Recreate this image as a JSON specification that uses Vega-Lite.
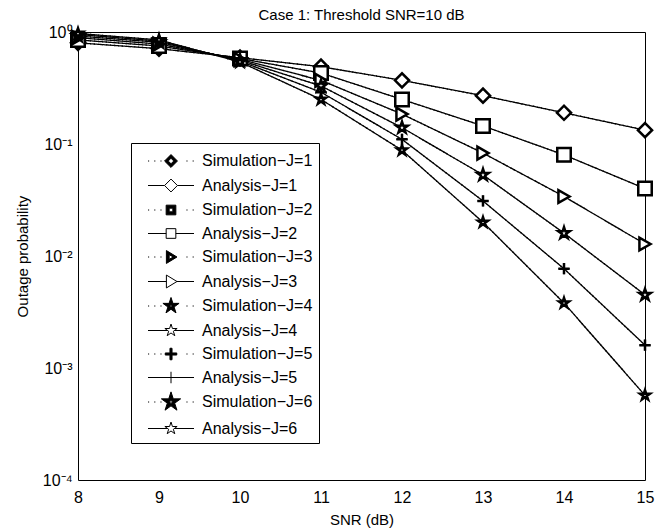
{
  "$schema": "https://vega.github.io/schema/vega-lite/v6.json",
  "width": 567,
  "height": 448,
  "autosize": {"type": "none"},
  "padding": {"left": 78, "top": 32, "right": 22, "bottom": 49},
  "background": "white",
  "title": {"text": "Case 1: Threshold SNR=10 dB", "font": "Liberation Sans", "fontSize": 15, "fontWeight": "normal", "color": "black", "offset": 0},
  "config": {"font": "Liberation Sans", "view": {"stroke": null}, "axis": {"grid": false, "domainColor": "black", "tickColor": "black", "labelColor": "black", "titleColor": "black", "labelFont": "Liberation Sans", "titleFont": "Liberation Sans", "titleFontWeight": "normal"}},
  "data": {"values": [
    {"snr":8,"J":1,"type":"Simulation","series":"Simulation−J=1","p":0.80},{"snr":9,"J":1,"type":"Simulation","series":"Simulation−J=1","p":0.71},{"snr":10,"J":1,"type":"Simulation","series":"Simulation−J=1","p":0.59},{"snr":11,"J":1,"type":"Simulation","series":"Simulation−J=1","p":0.49},{"snr":12,"J":1,"type":"Simulation","series":"Simulation−J=1","p":0.37},{"snr":13,"J":1,"type":"Simulation","series":"Simulation−J=1","p":0.27},{"snr":14,"J":1,"type":"Simulation","series":"Simulation−J=1","p":0.19},{"snr":15,"J":1,"type":"Simulation","series":"Simulation−J=1","p":0.133},
    {"snr":8,"J":1,"type":"Analysis","series":"Analysis−J=1","p":0.80},{"snr":9,"J":1,"type":"Analysis","series":"Analysis−J=1","p":0.71},{"snr":10,"J":1,"type":"Analysis","series":"Analysis−J=1","p":0.59},{"snr":11,"J":1,"type":"Analysis","series":"Analysis−J=1","p":0.49},{"snr":12,"J":1,"type":"Analysis","series":"Analysis−J=1","p":0.37},{"snr":13,"J":1,"type":"Analysis","series":"Analysis−J=1","p":0.27},{"snr":14,"J":1,"type":"Analysis","series":"Analysis−J=1","p":0.19},{"snr":15,"J":1,"type":"Analysis","series":"Analysis−J=1","p":0.133},
    {"snr":8,"J":2,"type":"Simulation","series":"Simulation−J=2","p":0.85},{"snr":9,"J":2,"type":"Simulation","series":"Simulation−J=2","p":0.75},{"snr":10,"J":2,"type":"Simulation","series":"Simulation−J=2","p":0.58},{"snr":11,"J":2,"type":"Simulation","series":"Simulation−J=2","p":0.43},{"snr":12,"J":2,"type":"Simulation","series":"Simulation−J=2","p":0.25},{"snr":13,"J":2,"type":"Simulation","series":"Simulation−J=2","p":0.145},{"snr":14,"J":2,"type":"Simulation","series":"Simulation−J=2","p":0.080},{"snr":15,"J":2,"type":"Simulation","series":"Simulation−J=2","p":0.040},
    {"snr":8,"J":2,"type":"Analysis","series":"Analysis−J=2","p":0.85},{"snr":9,"J":2,"type":"Analysis","series":"Analysis−J=2","p":0.75},{"snr":10,"J":2,"type":"Analysis","series":"Analysis−J=2","p":0.58},{"snr":11,"J":2,"type":"Analysis","series":"Analysis−J=2","p":0.43},{"snr":12,"J":2,"type":"Analysis","series":"Analysis−J=2","p":0.25},{"snr":13,"J":2,"type":"Analysis","series":"Analysis−J=2","p":0.145},{"snr":14,"J":2,"type":"Analysis","series":"Analysis−J=2","p":0.080},{"snr":15,"J":2,"type":"Analysis","series":"Analysis−J=2","p":0.040},
    {"snr":8,"J":3,"type":"Simulation","series":"Simulation−J=3","p":0.89},{"snr":9,"J":3,"type":"Simulation","series":"Simulation−J=3","p":0.78},{"snr":10,"J":3,"type":"Simulation","series":"Simulation−J=3","p":0.57},{"snr":11,"J":3,"type":"Simulation","series":"Simulation−J=3","p":0.37},{"snr":12,"J":3,"type":"Simulation","series":"Simulation−J=3","p":0.185},{"snr":13,"J":3,"type":"Simulation","series":"Simulation−J=3","p":0.083},{"snr":14,"J":3,"type":"Simulation","series":"Simulation−J=3","p":0.034},{"snr":15,"J":3,"type":"Simulation","series":"Simulation−J=3","p":0.0128},
    {"snr":8,"J":3,"type":"Analysis","series":"Analysis−J=3","p":0.89},{"snr":9,"J":3,"type":"Analysis","series":"Analysis−J=3","p":0.78},{"snr":10,"J":3,"type":"Analysis","series":"Analysis−J=3","p":0.57},{"snr":11,"J":3,"type":"Analysis","series":"Analysis−J=3","p":0.37},{"snr":12,"J":3,"type":"Analysis","series":"Analysis−J=3","p":0.185},{"snr":13,"J":3,"type":"Analysis","series":"Analysis−J=3","p":0.083},{"snr":14,"J":3,"type":"Analysis","series":"Analysis−J=3","p":0.034},{"snr":15,"J":3,"type":"Analysis","series":"Analysis−J=3","p":0.0128},
    {"snr":8,"J":4,"type":"Simulation","series":"Simulation−J=4","p":0.92},{"snr":9,"J":4,"type":"Simulation","series":"Simulation−J=4","p":0.81},{"snr":10,"J":4,"type":"Simulation","series":"Simulation−J=4","p":0.56},{"snr":11,"J":4,"type":"Simulation","series":"Simulation−J=4","p":0.33},{"snr":12,"J":4,"type":"Simulation","series":"Simulation−J=4","p":0.14},{"snr":13,"J":4,"type":"Simulation","series":"Simulation−J=4","p":0.053},{"snr":14,"J":4,"type":"Simulation","series":"Simulation−J=4","p":0.016},{"snr":15,"J":4,"type":"Simulation","series":"Simulation−J=4","p":0.0045},
    {"snr":8,"J":4,"type":"Analysis","series":"Analysis−J=4","p":0.92},{"snr":9,"J":4,"type":"Analysis","series":"Analysis−J=4","p":0.81},{"snr":10,"J":4,"type":"Analysis","series":"Analysis−J=4","p":0.56},{"snr":11,"J":4,"type":"Analysis","series":"Analysis−J=4","p":0.33},{"snr":12,"J":4,"type":"Analysis","series":"Analysis−J=4","p":0.14},{"snr":13,"J":4,"type":"Analysis","series":"Analysis−J=4","p":0.053},{"snr":14,"J":4,"type":"Analysis","series":"Analysis−J=4","p":0.016},{"snr":15,"J":4,"type":"Analysis","series":"Analysis−J=4","p":0.0045},
    {"snr":8,"J":5,"type":"Simulation","series":"Simulation−J=5","p":0.95},{"snr":9,"J":5,"type":"Simulation","series":"Simulation−J=5","p":0.83},{"snr":10,"J":5,"type":"Simulation","series":"Simulation−J=5","p":0.55},{"snr":11,"J":5,"type":"Simulation","series":"Simulation−J=5","p":0.29},{"snr":12,"J":5,"type":"Simulation","series":"Simulation−J=5","p":0.11},{"snr":13,"J":5,"type":"Simulation","series":"Simulation−J=5","p":0.031},{"snr":14,"J":5,"type":"Simulation","series":"Simulation−J=5","p":0.0077},{"snr":15,"J":5,"type":"Simulation","series":"Simulation−J=5","p":0.0016},
    {"snr":8,"J":5,"type":"Analysis","series":"Analysis−J=5","p":0.95},{"snr":9,"J":5,"type":"Analysis","series":"Analysis−J=5","p":0.83},{"snr":10,"J":5,"type":"Analysis","series":"Analysis−J=5","p":0.55},{"snr":11,"J":5,"type":"Analysis","series":"Analysis−J=5","p":0.29},{"snr":12,"J":5,"type":"Analysis","series":"Analysis−J=5","p":0.11},{"snr":13,"J":5,"type":"Analysis","series":"Analysis−J=5","p":0.031},{"snr":14,"J":5,"type":"Analysis","series":"Analysis−J=5","p":0.0077},{"snr":15,"J":5,"type":"Analysis","series":"Analysis−J=5","p":0.0016},
    {"snr":8,"J":6,"type":"Simulation","series":"Simulation−J=6","p":0.97},{"snr":9,"J":6,"type":"Simulation","series":"Simulation−J=6","p":0.85},{"snr":10,"J":6,"type":"Simulation","series":"Simulation−J=6","p":0.54},{"snr":11,"J":6,"type":"Simulation","series":"Simulation−J=6","p":0.25},{"snr":12,"J":6,"type":"Simulation","series":"Simulation−J=6","p":0.088},{"snr":13,"J":6,"type":"Simulation","series":"Simulation−J=6","p":0.020},{"snr":14,"J":6,"type":"Simulation","series":"Simulation−J=6","p":0.0038},{"snr":15,"J":6,"type":"Simulation","series":"Simulation−J=6","p":0.00057},
    {"snr":8,"J":6,"type":"Analysis","series":"Analysis−J=6","p":0.97},{"snr":9,"J":6,"type":"Analysis","series":"Analysis−J=6","p":0.85},{"snr":10,"J":6,"type":"Analysis","series":"Analysis−J=6","p":0.54},{"snr":11,"J":6,"type":"Analysis","series":"Analysis−J=6","p":0.25},{"snr":12,"J":6,"type":"Analysis","series":"Analysis−J=6","p":0.088},{"snr":13,"J":6,"type":"Analysis","series":"Analysis−J=6","p":0.020},{"snr":14,"J":6,"type":"Analysis","series":"Analysis−J=6","p":0.0038},{"snr":15,"J":6,"type":"Analysis","series":"Analysis−J=6","p":0.00057}
  ]},
  "resolve": {"axis": {"x": "independent", "y": "independent"}, "scale": {"shape": "independent", "fill": "independent", "stroke": "independent"}},
  "layer": [
    {
      "mark": {"type": "line", "color": "black", "strokeWidth": 1.3},
      "encoding": {
        "x": {"field": "snr", "type": "quantitative", "scale": {"domain": [8, 15], "nice": false, "zero": false},
          "axis": {"orient": "bottom", "values": [8,9,10,11,12,13,14,15], "title": "SNR (dB)", "titleFontSize": 15, "titlePadding": 7, "labelFontSize": 16, "labelPadding": 9, "tickSize": 0, "labelFlush": false,
            "encode": {"ticks": {"update": {"y2": {"value": -6}}}}}},
        "y": {"field": "p", "type": "quantitative", "scale": {"type": "log", "domain": [0.0001, 1], "nice": false},
          "axis": {"orient": "left", "values": [0.0001,0.0002,0.0003,0.0004,0.0005,0.0006,0.0007,0.0008,0.0009,0.001,0.002,0.003,0.004,0.005,0.006,0.007,0.008,0.009,0.01,0.02,0.03,0.04,0.05,0.06,0.07,0.08,0.09,0.1,0.2,0.3,0.4,0.5,0.6,0.7,0.8,0.9,1],
            "labelExpr": "abs(log(datum.value)/LN10 - round(log(datum.value)/LN10)) < 0.001 ? '10' + ['⁰','⁻¹','⁻²','⁻³','⁻⁴'][-round(log(datum.value)/LN10)] : ''",
            "labelOverlap": false, "labelFlush": false, "labelFontSize": 16, "labelPadding": 6, "tickSize": 0,
            "title": "Outage probability", "titleFontSize": 15, "titlePadding": 12,
            "encode": {"ticks": {"update": {"x2": {"signal": "abs(log(datum.value)/LN10 - round(log(datum.value)/LN10)) < 0.001 ? 6 : 3"}}}}}},
        "detail": {"field": "series"},
        "strokeDash": {"field": "type", "type": "nominal", "scale": {"domain": ["Simulation", "Analysis"], "range": [[1, 3], [1, 0]]}, "legend": null}
      }
    },
    {
      "mark": {"type": "point", "filled": true, "stroke": "black", "opacity": 1},
      "encoding": {
        "x": {"field": "snr", "type": "quantitative", "scale": {"domain": [8, 15], "nice": false, "zero": false},
          "axis": {"orient": "top", "values": [8,9,10,11,12,13,14,15], "labels": false, "title": null, "tickSize": 0,
            "encode": {"ticks": {"update": {"y2": {"value": 6}}}}}},
        "y": {"field": "p", "type": "quantitative", "scale": {"type": "log", "domain": [0.0001, 1], "nice": false},
          "axis": {"orient": "right", "values": [0.0001,0.0002,0.0003,0.0004,0.0005,0.0006,0.0007,0.0008,0.0009,0.001,0.002,0.003,0.004,0.005,0.006,0.007,0.008,0.009,0.01,0.02,0.03,0.04,0.05,0.06,0.07,0.08,0.09,0.1,0.2,0.3,0.4,0.5,0.6,0.7,0.8,0.9,1],
            "labels": false, "title": null, "tickSize": 0,
            "encode": {"ticks": {"update": {"x2": {"signal": "abs(log(datum.value)/LN10 - round(log(datum.value)/LN10)) < 0.001 ? -6 : -3"}}}}}},
        "size": {"field": "J", "type": "ordinal", "scale": {"domain": [1,2,3,4,5,6], "range": [200, 110, 200, 324, 150, 324]}, "legend": null},
        "strokeWidth": {"condition": {"test": "datum.type == 'Simulation'", "value": 2.5}, "value": 1},
        "fill": {"condition": {"test": "datum.type == 'Simulation'", "value": "white"}, "value": "transparent"},
        "shape": {"field": "series", "type": "nominal", "legend": null,
          "scale": {"domain": ["Simulation−J=1","Analysis−J=1","Simulation−J=2","Analysis−J=2","Simulation−J=3","Analysis−J=3","Simulation−J=4","Analysis−J=4","Simulation−J=5","Analysis−J=5","Simulation−J=6","Analysis−J=6"],
            "range": ["diamond","diamond","square","square","M0.87,0L-0.87,-1L-0.87,1Z","M0.87,0L-0.87,-1L-0.87,1Z",
              "M0,-1L0.2245,-0.309L0.951,-0.309L0.363,0.118L0.588,0.809L0,0.382L-0.588,0.809L-0.363,0.118L-0.951,-0.309L-0.2245,-0.309Z",
              "M0,-1L0.2245,-0.309L0.951,-0.309L0.363,0.118L0.588,0.809L0,0.382L-0.588,0.809L-0.363,0.118L-0.951,-0.309L-0.2245,-0.309Z",
              "M-1,0H1M0,-1V1","M-1,0H1M0,-1V1",
              "M0,-1L0.2245,-0.309L0.951,-0.309L0.363,0.118L0.588,0.809L0,0.382L-0.588,0.809L-0.363,0.118L-0.951,-0.309L-0.2245,-0.309Z",
              "M0,-1L0.2245,-0.309L0.951,-0.309L0.363,0.118L0.588,0.809L0,0.382L-0.588,0.809L-0.363,0.118L-0.951,-0.309L-0.2245,-0.309Z"]}}
      }
    },
    {
      "transform": [{"filter": "false"}],
      "mark": {"type": "point", "filled": true, "strokeWidth": 1, "opacity": 1, "size": 529},
      "encoding": {
        "shape": {"field": "series", "type": "nominal",
          "scale": {"domain": ["Simulation−J=1","Analysis−J=1","Simulation−J=2","Analysis−J=2","Simulation−J=3","Analysis−J=3","Simulation−J=4","Analysis−J=4","Simulation−J=5","Analysis−J=5","Simulation−J=6","Analysis−J=6"],
            "range": [
              "M-2,0h0.1M-1.46,0h0.1M-0.92,0h0.1M1.34,0h0.1M1.88,0h0.1M0,-0.56L0.56,0L0,0.56L-0.56,0ZM0,-0.24L-0.24,0L0,0.24L0.24,0Z",
              "M-2,0H-0.56M0.56,0H2M0,-0.56L0.56,0L0,0.56L-0.56,0Z",
              "M-2,0h0.1M-1.46,0h0.1M-0.92,0h0.1M1.34,0h0.1M1.88,0h0.1M-0.42,-0.42H0.42V0.42H-0.42ZM-0.16,-0.16V0.16H0.16V-0.16Z",
              "M-2,0H-0.42M0.42,0H2M-0.42,-0.42H0.42V0.42H-0.42Z",
              "M-2,0h0.1M-1.46,0h0.1M-0.92,0h0.1M1.34,0h0.1M1.88,0h0.1M0.52,0L-0.4,0.56L-0.4,-0.56ZM0.2,0L-0.16,-0.2L-0.16,0.2Z",
              "M-2,0H-0.4M0.52,0H2M0.52,0L-0.4,0.56L-0.4,-0.56Z",
              "M-2,0h0.1M-1.46,0h0.1M-0.92,0h0.1M1.34,0h0.1M1.88,0h0.1M0,-0.74L0.1661,-0.2287L0.7037,-0.2287L0.2686,0.0873L0.4351,0.5987L0,0.2827L-0.4351,0.5987L-0.2686,0.0873L-0.7037,-0.2287L-0.1661,-0.2287ZM0,-0.1L-0.096,-0.03L-0.06,0.08L0.06,0.08L0.096,-0.03Z",
              "M-2,0H-0.3M0.3,0H2M0,-0.56L0.1257,-0.173L0.5326,-0.173L0.2033,0.0661L0.3293,0.453L0,0.2139L-0.3293,0.453L-0.2033,0.0661L-0.5326,-0.173L-0.1257,-0.173Z",
              "M-2,0h0.1M-1.46,0h0.1M-0.92,0h0.1M1.34,0h0.1M1.88,0h0.1M-0.5,-0.09H-0.09V-0.5H0.09V-0.09H0.5V0.09H0.09V0.5H-0.09V0.09H-0.5Z",
              "M-2,0H2M0,-0.5V0.5",
              "M-2,0h0.1M-1.46,0h0.1M-0.92,0h0.1M1.34,0h0.1M1.88,0h0.1M0,-0.88L0.1976,-0.2719L0.8369,-0.2719L0.3194,0.1038L0.5174,0.7119L0,0.3362L-0.5174,0.7119L-0.3194,0.1038L-0.8369,-0.2719L-0.1976,-0.2719ZM0,-0.12L-0.114,-0.038L-0.07,0.098L0.07,0.098L0.114,-0.038Z",
              "M-2,0H-0.3M0.3,0H2M0,-0.56L0.1257,-0.173L0.5326,-0.173L0.2033,0.0661L0.3293,0.453L0,0.2139L-0.3293,0.453L-0.2033,0.0661L-0.5326,-0.173L-0.1257,-0.173Z"]},
          "legend": {"orient": "none", "legendX": 53, "legendY": 111, "title": null, "strokeColor": "black", "fillColor": "white", "padding": 6, "rowPadding": 3.5,
            "labelFont": "Liberation Sans", "labelFontSize": 16, "labelColor": "black", "labelOffset": 19, "symbolOffset": 22, "labelLimit": 300, "symbolStrokeWidth": 1, "symbolSize": 529, "symbolOpacity": 1}},
        "fill": {"field": "series", "type": "nominal",
          "scale": {"domain": ["Simulation−J=1","Analysis−J=1","Simulation−J=2","Analysis−J=2","Simulation−J=3","Analysis−J=3","Simulation−J=4","Analysis−J=4","Simulation−J=5","Analysis−J=5","Simulation−J=6","Analysis−J=6"],
            "range": ["black","white","black","white","black","white","black","white","black","white","black","white"]},
          "legend": {"orient": "none", "legendX": 53, "legendY": 111, "title": null, "strokeColor": "black", "fillColor": "white", "padding": 6, "rowPadding": 3.5,
            "labelFont": "Liberation Sans", "labelFontSize": 16, "labelColor": "black", "labelOffset": 19, "symbolOffset": 22, "labelLimit": 300, "symbolStrokeWidth": 1, "symbolSize": 529, "symbolOpacity": 1}},
        "stroke": {"field": "series", "type": "nominal",
          "scale": {"domain": ["Simulation−J=1","Analysis−J=1","Simulation−J=2","Analysis−J=2","Simulation−J=3","Analysis−J=3","Simulation−J=4","Analysis−J=4","Simulation−J=5","Analysis−J=5","Simulation−J=6","Analysis−J=6"],
            "range": ["black","black","black","black","black","black","black","black","black","black","black","black"]},
          "legend": {"orient": "none", "legendX": 53, "legendY": 111, "title": null, "strokeColor": "black", "fillColor": "white", "padding": 6, "rowPadding": 3.5,
            "labelFont": "Liberation Sans", "labelFontSize": 16, "labelColor": "black", "labelOffset": 19, "symbolOffset": 22, "labelLimit": 300, "symbolStrokeWidth": 1, "symbolSize": 529, "symbolOpacity": 1}}
      }
    }
  ]
}
